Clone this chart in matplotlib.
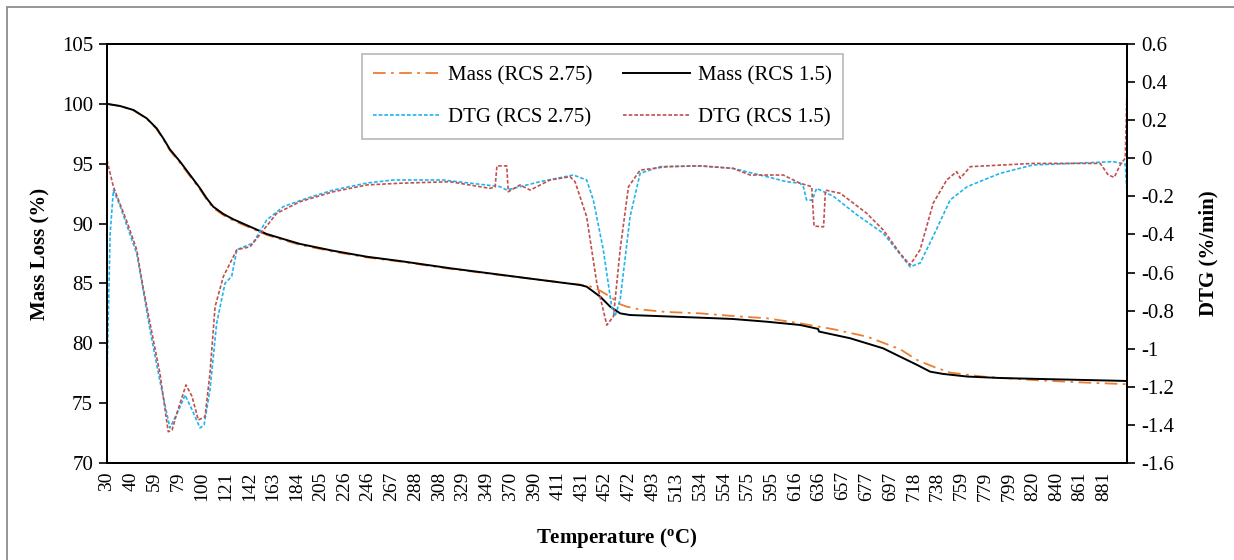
import numpy as np
import matplotlib
matplotlib.use("Agg")
import matplotlib.pyplot as plt
from matplotlib.patches import Rectangle

plt.rcParams["font.family"] = ["Liberation Serif", "DejaVu Serif"]
plt.rcParams["mathtext.fontset"] = "custom"
plt.rcParams["mathtext.rm"] = "Liberation Serif"
plt.rcParams["mathtext.bf"] = "Liberation Serif:bold"

# category labels of the temperature axis (deg C), one per label slot
temp_ticks = [30, 40, 59, 79, 100, 121, 142, 163, 184, 205, 226, 246, 267, 288,
              308, 329, 349, 370, 390, 411, 431, 452, 472, 493, 513, 534, 554,
              575, 595, 616, 636, 657, 677, 697, 718, 738, 759, 779, 799, 820,
              840, 861, 881]
temp_end = 901  # last recorded temperature, right edge of the axis

# mass loss, RCS 1.5 (%)
mass_15_t = [30, 35.5, 42.1, 52.8, 60.8, 66.4, 72, 80.7, 89.5, 98.3, 104.2, 110,
             119, 127.7, 142.6, 157.3, 172, 186.7, 216, 245, 274.4, 317.5, 360.8,
             395, 429.6, 435.4, 447.3, 456, 464.4, 472.8, 533.8, 561.8, 591.2,
             620, 635.2, 636, 663.2, 691, 705.8, 720.7, 731.6, 742.8, 764, 791.6,
             834.8, 889, 901]
mass_15 = [100.0, 99.82, 99.49, 98.79, 97.96, 97.12, 96.2, 95.17, 94.06, 92.95,
           92.11, 91.41, 90.8, 90.36, 89.74, 89.13, 88.71, 88.3, 87.73, 87.23,
           86.87, 86.27, 85.73, 85.3, 84.87, 84.73, 83.9, 83.06, 82.5, 82.36,
           82.14, 82.03, 81.8, 81.53, 81.2, 80.98, 80.42, 79.58, 78.88, 78.19,
           77.63, 77.44, 77.22, 77.1, 77.0, 76.88, 76.85]

# mass loss, RCS 2.75 (%)
mass_275_t = [30, 35.5, 42.1, 52.8, 60.8, 66.4, 72, 80.7, 89.5, 98.3, 104.2, 110,
              119, 127.7, 142.6, 157.3, 172, 186.7, 216, 245, 274.4, 317.5, 360.8,
              395, 429.6, 442, 456, 464, 470, 480.6, 503.5, 533.8, 561.8, 591,
              620, 649, 677.6, 705.8, 720.7, 735.5, 749.5, 778, 820.8, 860, 901]
mass_275 = [100.0, 99.82, 99.47, 98.75, 97.9, 97.05, 96.1, 95.05, 93.95, 92.85,
            92.0, 91.3, 90.7, 90.25, 89.65, 89.05, 88.62, 88.22, 87.66, 87.17,
            86.82, 86.22, 85.7, 85.3, 84.9, 84.68, 83.9, 83.28, 83.06, 82.84,
            82.62, 82.5, 82.28, 82.09, 81.67, 81.17, 80.55, 79.5, 78.6, 78.0,
            77.54, 77.21, 76.93, 76.74, 76.58]

# DTG, RCS 1.5 (%/min)
dtg_15_t = [30, 32.7, 35.5, 38.3, 44.8, 49.8, 55.4, 63.6, 70.6, 73.8, 77.8, 85.9,
            91.2, 96.8, 102.7, 107.1, 111.6, 119, 130.9, 142.6, 154.4, 166.2,
            186.7, 216, 245, 274.4, 317.5, 351.9, 356.4, 358, 366.7, 368, 378,
            386.6, 404, 421.2, 425.4, 435.4, 444.4, 453.2, 458.8, 464.4, 471.4,
            481.7, 505, 533.8, 562, 577, 605.3, 620, 629.8, 631.8, 640, 641.7,
            654.9, 677.2, 691.2, 705.8, 714.6, 723.2, 734.2, 746, 754.8, 758,
            766.4, 820.4, 878, 884.8, 890, 895.5, 899.5, 901]
dtg_15 = [-0.01, -0.15, -0.24, -0.33, -0.48, -0.674, -0.865, -1.13, -1.436,
          -1.427, -1.34, -1.19, -1.25, -1.374, -1.357, -1.13, -0.78, -0.62,
          -0.48, -0.465, -0.377, -0.289, -0.228, -0.176, -0.14, -0.131, -0.123,
          -0.158, -0.15, -0.04, -0.04, -0.176, -0.14, -0.167, -0.114, -0.097,
          -0.123, -0.307, -0.657, -0.876, -0.83, -0.48, -0.15, -0.062, -0.044,
          -0.04, -0.053, -0.088, -0.088, -0.131, -0.149, -0.356, -0.36, -0.167,
          -0.184, -0.289, -0.377, -0.5, -0.56, -0.48, -0.236, -0.114, -0.07,
          -0.105, -0.044, -0.027, -0.027, -0.088, -0.1, -0.03, 0.0, 0.36]

# DTG, RCS 2.75 (%/min)
dtg_275_t = [30, 31.3, 32.7, 35.5, 38.3, 44.8, 55.4, 63.6, 72, 78.8, 85.1, 91.2,
             98.3, 101.9, 107.1, 113, 120.4, 126.3, 130.9, 145.2, 157.3, 172,
             192.8, 216, 245, 268.5, 311.4, 360.8, 366.7, 395, 424, 435.4, 441.3,
             450.1, 457.3, 460.1, 464.4, 472.8, 481.7, 499.2, 533.8, 561.8,
             591.2, 608.4, 620, 622.8, 625.5, 630.2, 634, 648.8, 669.1, 691.2,
             714.6, 723.2, 734.2, 749, 763.8, 791.6, 820.4, 861, 889, 899.5, 901]
dtg_275 = [-1.15, -0.4, -0.167, -0.25, -0.35, -0.5, -0.9, -1.17, -1.416, -1.33,
           -1.243, -1.32, -1.416, -1.4, -1.217, -0.867, -0.657, -0.62, -0.48,
           -0.445, -0.324, -0.254, -0.21, -0.167, -0.13, -0.114, -0.114, -0.149,
           -0.167, -0.123, -0.088, -0.114, -0.219, -0.48, -0.78, -0.83, -0.744,
           -0.307, -0.079, -0.044, -0.04, -0.053, -0.097, -0.123, -0.131, -0.15,
           -0.219, -0.22, -0.158, -0.2, -0.298, -0.394, -0.57, -0.55, -0.41,
           -0.219, -0.149, -0.079, -0.035, -0.025, -0.018, -0.03, -0.18]


def to_slot(temps):
    """Map temperatures onto the category slots of the x axis."""
    ref_t = temp_ticks + [temp_end]
    ref_x = np.arange(len(ref_t), dtype=float)
    ref_x[-1] = len(temp_ticks) - 1 + (temp_end - temp_ticks[-1]) / 20.5
    return np.interp(temps, ref_t, ref_x)


fig = plt.figure(figsize=(12.34, 5.6), dpi=100)
ax = fig.add_axes([107 / 1234, 1 - 463 / 560, 1020 / 1234, 419 / 560])
ax2 = ax.twinx()

c_orange = "#ED7D31"
c_blue = "#1FB4F0"
c_red = "#C0504D"

l1, = ax.plot(to_slot(mass_275_t), mass_275, color=c_orange, lw=1.3,
              dashes=(7, 3, 1.5, 3), label="Mass (RCS 2.75)")
l2, = ax.plot(to_slot(mass_15_t), mass_15, color="black", lw=1.4,
              label="Mass (RCS 1.5)")
l3, = ax2.plot(to_slot(dtg_275_t), dtg_275, color=c_blue, lw=1.2,
               dashes=(2.2, 1.2), label="DTG (RCS 2.75)")
l4, = ax2.plot(to_slot(dtg_15_t), dtg_15, color=c_red, lw=1.2,
               dashes=(2.2, 1.2), label="DTG (RCS 1.5)")

x_end = to_slot([temp_end])[0]
ax.set_xlim(0, x_end)
ax.set_ylim(70, 105)
ax.set_yticks(np.arange(70, 106, 5))
ax2.set_ylim(-1.6, 0.6)
dtg_ticks = np.round(np.arange(-1.6, 0.61, 0.2), 1)
ax2.set_yticks(dtg_ticks)
ax2.set_yticklabels(["0" if v == 0 else f"{v:g}" for v in dtg_ticks])

ax.set_xticks(np.arange(len(temp_ticks)))
ax.set_xticklabels([str(t) for t in temp_ticks], rotation=90, fontsize=14)
ax.tick_params(axis="x", length=0, pad=6)
ax.tick_params(axis="y", direction="out", length=6, width=1.2, labelsize=15, pad=4)
ax2.tick_params(axis="y", direction="out", length=6, width=1.2, labelsize=15, pad=4)

for a in (ax, ax2):
    for s in a.spines.values():
        s.set_linewidth(1.4)
        s.set_color("black")

ax.set_ylabel("Mass Loss (%)", fontsize=15, fontweight="bold", labelpad=8)
ax2.set_ylabel("DTG (%/min)", fontsize=15, fontweight="bold", rotation=90,
               labelpad=18)
ax.set_xlabel(r"Temperature ($\mathbf{^{o}}$C)", fontsize=15, fontweight="bold",
              labelpad=18)

# matplotlib fills legend columns first, so list handles column by column
leg = ax.legend(handles=[l1, l3, l2, l4], ncol=2, loc="upper left",
                bbox_to_anchor=(255 / 1020, 1 - 10 / 419), fontsize=15,
                frameon=True, fancybox=False, handlelength=3.2,
                handletextpad=0.4, columnspacing=1.45, borderpad=0.55,
                labelspacing=1.08, borderaxespad=0)
leg.get_frame().set_edgecolor("#A6A6A6")
leg.get_frame().set_linewidth(1.2)

# outer chart frame
fig.patches.append(Rectangle((6.5 / 1234, -0.1), 1.2, 1 - 6.5 / 560 + 0.1,
                             transform=fig.transFigure, fill=False,
                             edgecolor="#8C8C8C", lw=1.3))

fig.savefig("out.png", dpi=100)
